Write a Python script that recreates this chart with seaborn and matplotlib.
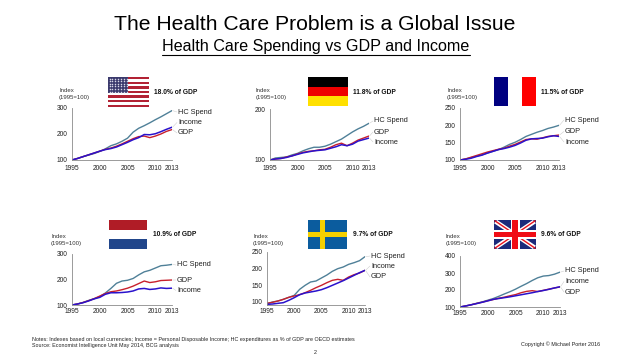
import matplotlib
matplotlib.use('Agg')
import matplotlib.pyplot as plt
import numpy as np
import seaborn as sns
from matplotlib.patches import Rectangle, Polygon

sns.set_style('white')
plt.rcParams['font.family'] = ['Liberation Sans', 'DejaVu Sans']

W, H = 630, 358

years = list(range(1995, 2014))
xtick_years = [1995, 2000, 2005, 2010, 2013]

us_hc = [100, 106, 113, 119, 125, 133, 143, 155, 162, 172, 184, 207, 222, 232, 243, 255, 266, 278, 290]
us_gdp = [100, 106, 113, 120, 127, 134, 141, 146, 153, 162, 172, 182, 190, 192, 186, 192, 200, 210, 217]
us_inc = [100, 106, 113, 120, 127, 134, 140, 144, 150, 159, 168, 178, 186, 198, 197, 201, 209, 218, 226]

de_hc = [100, 104, 105, 106, 110, 113, 118, 122, 125, 125, 127, 131, 136, 141, 148, 155, 161, 166, 172]
de_gdp = [100, 102, 103, 106, 108, 112, 115, 117, 118, 120, 121, 125, 130, 133, 128, 133, 139, 143, 147]
de_inc = [100, 102, 103, 105, 108, 111, 114, 116, 118, 119, 120, 123, 126, 130, 128, 131, 137, 140, 143]

fr_hc = [100, 103, 107, 111, 115, 120, 125, 130, 137, 145, 151, 159, 168, 174, 180, 185, 191, 195, 200]
fr_gdp = [100, 103, 108, 113, 118, 123, 127, 131, 134, 140, 145, 152, 159, 161, 160, 164, 168, 170, 172]
fr_inc = [100, 102, 105, 110, 114, 120, 125, 130, 133, 137, 142, 149, 157, 161, 162, 163, 167, 170, 168]

nl_hc = [100, 104, 110, 118, 125, 133, 147, 165, 185, 194, 197, 204, 218, 230, 236, 245, 254, 256, 259]
nl_gdp = [100, 104, 110, 117, 125, 135, 145, 152, 155, 160, 166, 174, 184, 194, 188, 191, 196, 197, 198]
nl_inc = [100, 104, 109, 116, 124, 130, 142, 148, 148, 149, 151, 155, 163, 165, 161, 163, 167, 165, 166]

se_hc = [95, 100, 103, 108, 114, 120, 138, 150, 160, 163, 172, 181, 192, 200, 205, 213, 218, 224, 236]
se_gdp = [96, 99, 103, 108, 114, 118, 122, 128, 135, 143, 150, 158, 165, 168, 165, 175, 182, 187, 195]
se_inc = [93, 94, 96, 98, 105, 113, 122, 127, 130, 133, 137, 143, 150, 157, 164, 172, 180, 188, 195]

uk_hc = [100, 106, 113, 122, 130, 140, 150, 163, 177, 190, 205, 222, 238, 256, 272, 282, 285, 293, 305]
uk_gdp = [100, 106, 113, 121, 128, 137, 144, 152, 158, 166, 173, 184, 192, 196, 191, 198, 205, 212, 218]
uk_inc = [100, 106, 113, 120, 128, 136, 145, 150, 155, 160, 166, 172, 178, 184, 191, 197, 204, 212, 219]

HC_COLOR = '#4f8098'
GDP_COLOR = '#c8202c'
INC_COLOR = '#2a12cc'

# 每個小圖: 位置用像素, 左 右 上 下
panels = [
    dict(box=(72, 172, 108, 160), ylim=(100, 300), yticks=[100, 200, 300], hc=us_hc, gdp=us_gdp, inc=us_inc,
         order=['HC Spend', 'Income', 'GDP'], lab_x=178, lab_y=[112, 122.5, 133], xpad=3.5,
         pct='18.0% of GDP', pct_xy=(154, 92), idx_xy=(59, 90.5)),
    dict(box=(270, 369, 109, 160), ylim=(100, 200), yticks=[100, 200], hc=de_hc, gdp=de_gdp, inc=de_inc,
         order=['HC Spend', 'GDP', 'Income'], lab_x=374, lab_y=[121, 132, 142], xpad=3.5,
         pct='11.8% of GDP', pct_xy=(353, 92), idx_xy=(256, 90.5)),
    dict(box=(460, 559, 108, 160), ylim=(100, 250), yticks=[100, 150, 200, 250], hc=fr_hc, gdp=fr_gdp, inc=fr_inc,
         order=['HC Spend', 'GDP', 'Income'], lab_x=565, lab_y=[120, 131.5, 142], xpad=3.5,
         pct='11.5% of GDP', pct_xy=(541, 92), idx_xy=(447, 90.5)),
    dict(box=(72, 172, 254, 305), ylim=(100, 300), yticks=[100, 200, 300], hc=nl_hc, gdp=nl_gdp, inc=nl_inc,
         order=['HC Spend', 'GDP', 'Income'], lab_x=177, lab_y=[265, 280, 290.5], xpad=2.5,
         pct='10.9% of GDP', pct_xy=(153, 234.5), idx_xy=(51, 236)),
    dict(box=(267, 365, 252, 305), ylim=(91, 250), yticks=[100, 150, 200, 250], hc=se_hc, gdp=se_gdp, inc=se_inc,
         order=['HC Spend', 'Income', 'GDP'], lab_x=371, lab_y=[256, 266, 277], xpad=2.5,
         pct='9.7% of GDP', pct_xy=(353, 234.5), idx_xy=(253, 236)),
    dict(box=(460, 560, 256, 307), ylim=(100, 400), yticks=[100, 200, 300, 400], hc=uk_hc, gdp=uk_gdp, inc=uk_inc,
         order=['HC Spend', 'Income', 'GDP'], lab_x=565, lab_y=[271, 281.5, 292], xpad=2,
         pct='9.6% of GDP', pct_xy=(541, 234.5), idx_xy=(446, 236)),
]


def rect(ov, x0, y0, x1, y1, color):
    ov.add_patch(Rectangle((x0, y0), x1 - x0, y1 - y0, facecolor=color, edgecolor='none'))


def flag_us(ov, x0, y0, x1, y1):
    n = 13
    h = (y1 - y0) / n
    for i in range(0, n, 2):
        rect(ov, x0, y0 + i * h, x1, y0 + (i + 1) * h, '#b22234')
    cx = x0 + (x1 - x0) * 0.49
    cy = y0 + 7 * h
    rect(ov, x0, y0, cx, cy, '#3c3b6e')
    sx, sy = np.meshgrid(np.linspace(x0 + 1.5, cx - 1.5, 7), np.linspace(y0 + 1.5, cy - 1.5, 6))
    ov.scatter(sx.ravel(), sy.ravel(), s=1.2, color='#d8d8e8', linewidths=0)


def flag_uk(ov, x0, y0, x1, y1):
    rect(ov, x0, y0, x1, y1, '#1b2a7a')
    d = 3.2
    for pts in ([(x0, y0 + d), (x0 + d, y0), (x1, y1 - d), (x1 - d, y1)],
                [(x0, y1 - d), (x0 + d, y1), (x1, y0 + d), (x1 - d, y0)]):
        ov.add_patch(Polygon(pts, facecolor='white', edgecolor='none'))
    for pts in ([(x0, y0 + 1), (x0 + 1, y0), (x1, y1 - 1), (x1 - 1, y1)],
                [(x0, y1 - 1), (x0 + 1, y1), (x1, y0 + 1), (x1 - 1, y0)]):
        ov.add_patch(Polygon(pts, facecolor='#e8111c', edgecolor='none'))
    mx, my = (x0 + x1) / 2, (y0 + y1) / 2
    rect(ov, mx - 4.5, y0, mx + 4.5, y1, 'white')
    rect(ov, x0, my - 4.5, x1, my + 4.5, 'white')
    rect(ov, mx - 2.6, y0, mx + 2.6, y1, '#f00d16')
    rect(ov, x0, my - 2.6, x1, my + 2.6, '#f00d16')


fig = plt.figure(figsize=(W / 100, H / 100), dpi=100, facecolor='white')

# 整張圖的像素座標層, 放旗子和文字
ov = fig.add_axes([0, 0, 1, 1], zorder=5)
ov.set_xlim(0, W)
ov.set_ylim(H, 0)
ov.axis('off')

for p in panels:
    l, r, t, b = p['box']
    ax = fig.add_axes([l / W, 1 - b / H, (r - l) / W, (b - t) / H])
    ax.patch.set_alpha(0)
    sns.lineplot(x=years, y=p['hc'], color=HC_COLOR, lw=1.0, ax=ax)
    sns.lineplot(x=years, y=p['gdp'], color=GDP_COLOR, lw=1.0, ax=ax)
    sns.lineplot(x=years, y=p['inc'], color=INC_COLOR, lw=1.1, ax=ax)
    ax.set_xlim(1995, 2013)
    ax.set_ylim(*p['ylim'])
    ax.set_xticks(xtick_years)
    ax.set_yticks(p['yticks'])
    ax.tick_params(axis='x', length=0, pad=p['xpad'], labelsize=4.8, colors='#222222')
    ax.tick_params(axis='y', length=1.5, width=0.5, pad=1.5, labelsize=4.8, color='#777777', labelcolor='#222222')
    for s in ['top', 'right']:
        ax.spines[s].set_visible(False)
    for s in ['left', 'bottom']:
        ax.spines[s].set_color('#8a8a8a')
        ax.spines[s].set_linewidth(0.6)

    ends = {'HC Spend': p['hc'][-1], 'GDP': p['gdp'][-1], 'Income': p['inc'][-1]}
    for name, ly in zip(p['order'], p['lab_y']):
        ov.text(p['lab_x'], ly, name, fontsize=5.3, va='center', ha='left', color='#222222')
        # 端點到標籤的細引線
        _, py = ax.transData.transform((2013, ends[name]))
        ov.plot([r + 0.5, p['lab_x'] - 1], [H - py, ly], color='#c8c8c8', lw=0.35)

    ov.text(p['pct_xy'][0], p['pct_xy'][1], p['pct'], fontsize=4.8, fontweight='bold', va='center', ha='left', color='#111111')
    ix, iy = p['idx_xy']
    ov.text(ix, iy, 'Index', fontsize=4.3, va='center', ha='left', color='#333333')
    ov.text(ix, iy + 7, '(1995=100)', fontsize=4.3, va='center', ha='left', color='#333333')

# 旗子
flag_us(ov, 108, 77, 149, 107)
rect(ov, 308, 77, 348, 86.7, '#000000')
rect(ov, 308, 86.7, 348, 96.4, '#ee0000')
rect(ov, 308, 96.4, 348, 106, '#ffe000')
rect(ov, 494, 77, 508, 106, '#000080')
rect(ov, 522, 77, 536, 106, '#ff0000')
rect(ov, 109, 220, 147, 229.5, '#b01c26')
rect(ov, 109, 239, 147, 249, '#21468b')
rect(ov, 308, 220, 347, 249, '#0b5c9e')
rect(ov, 320, 220, 325, 249, '#f5d000')
rect(ov, 308, 232, 347, 237, '#f5d000')
flag_uk(ov, 494, 220, 536, 249)

# 標題
ov.text(315, 24, 'The Health Care Problem is a Global Issue', fontsize=15.2, ha='center', va='center', color='black')
ov.text(316, 47, 'Health Care Spending vs GDP and Income', fontsize=11.6, ha='center', va='center', color='black')
ov.plot([162, 470], [55, 55], color='black', lw=0.8)

# 註腳
ov.text(32, 340, 'Notes: Indexes based on local currencies; Income = Personal Disposable Income; HC expenditures as % of GDP are OECD estimates',
        fontsize=3.85, va='center', ha='left', color='#222222')
ov.text(32, 345, 'Source: Economist Intelligence Unit May 2014, BCG analysis', fontsize=3.85, va='center', ha='left', color='#222222')
ov.text(315, 352, '2', fontsize=3.9, va='center', ha='center', color='#222222')
ov.text(600, 344, 'Copyright © Michael Porter 2016', fontsize=3.9, va='center', ha='right', color='#222222')

fig.savefig('out.png', dpi=100)
